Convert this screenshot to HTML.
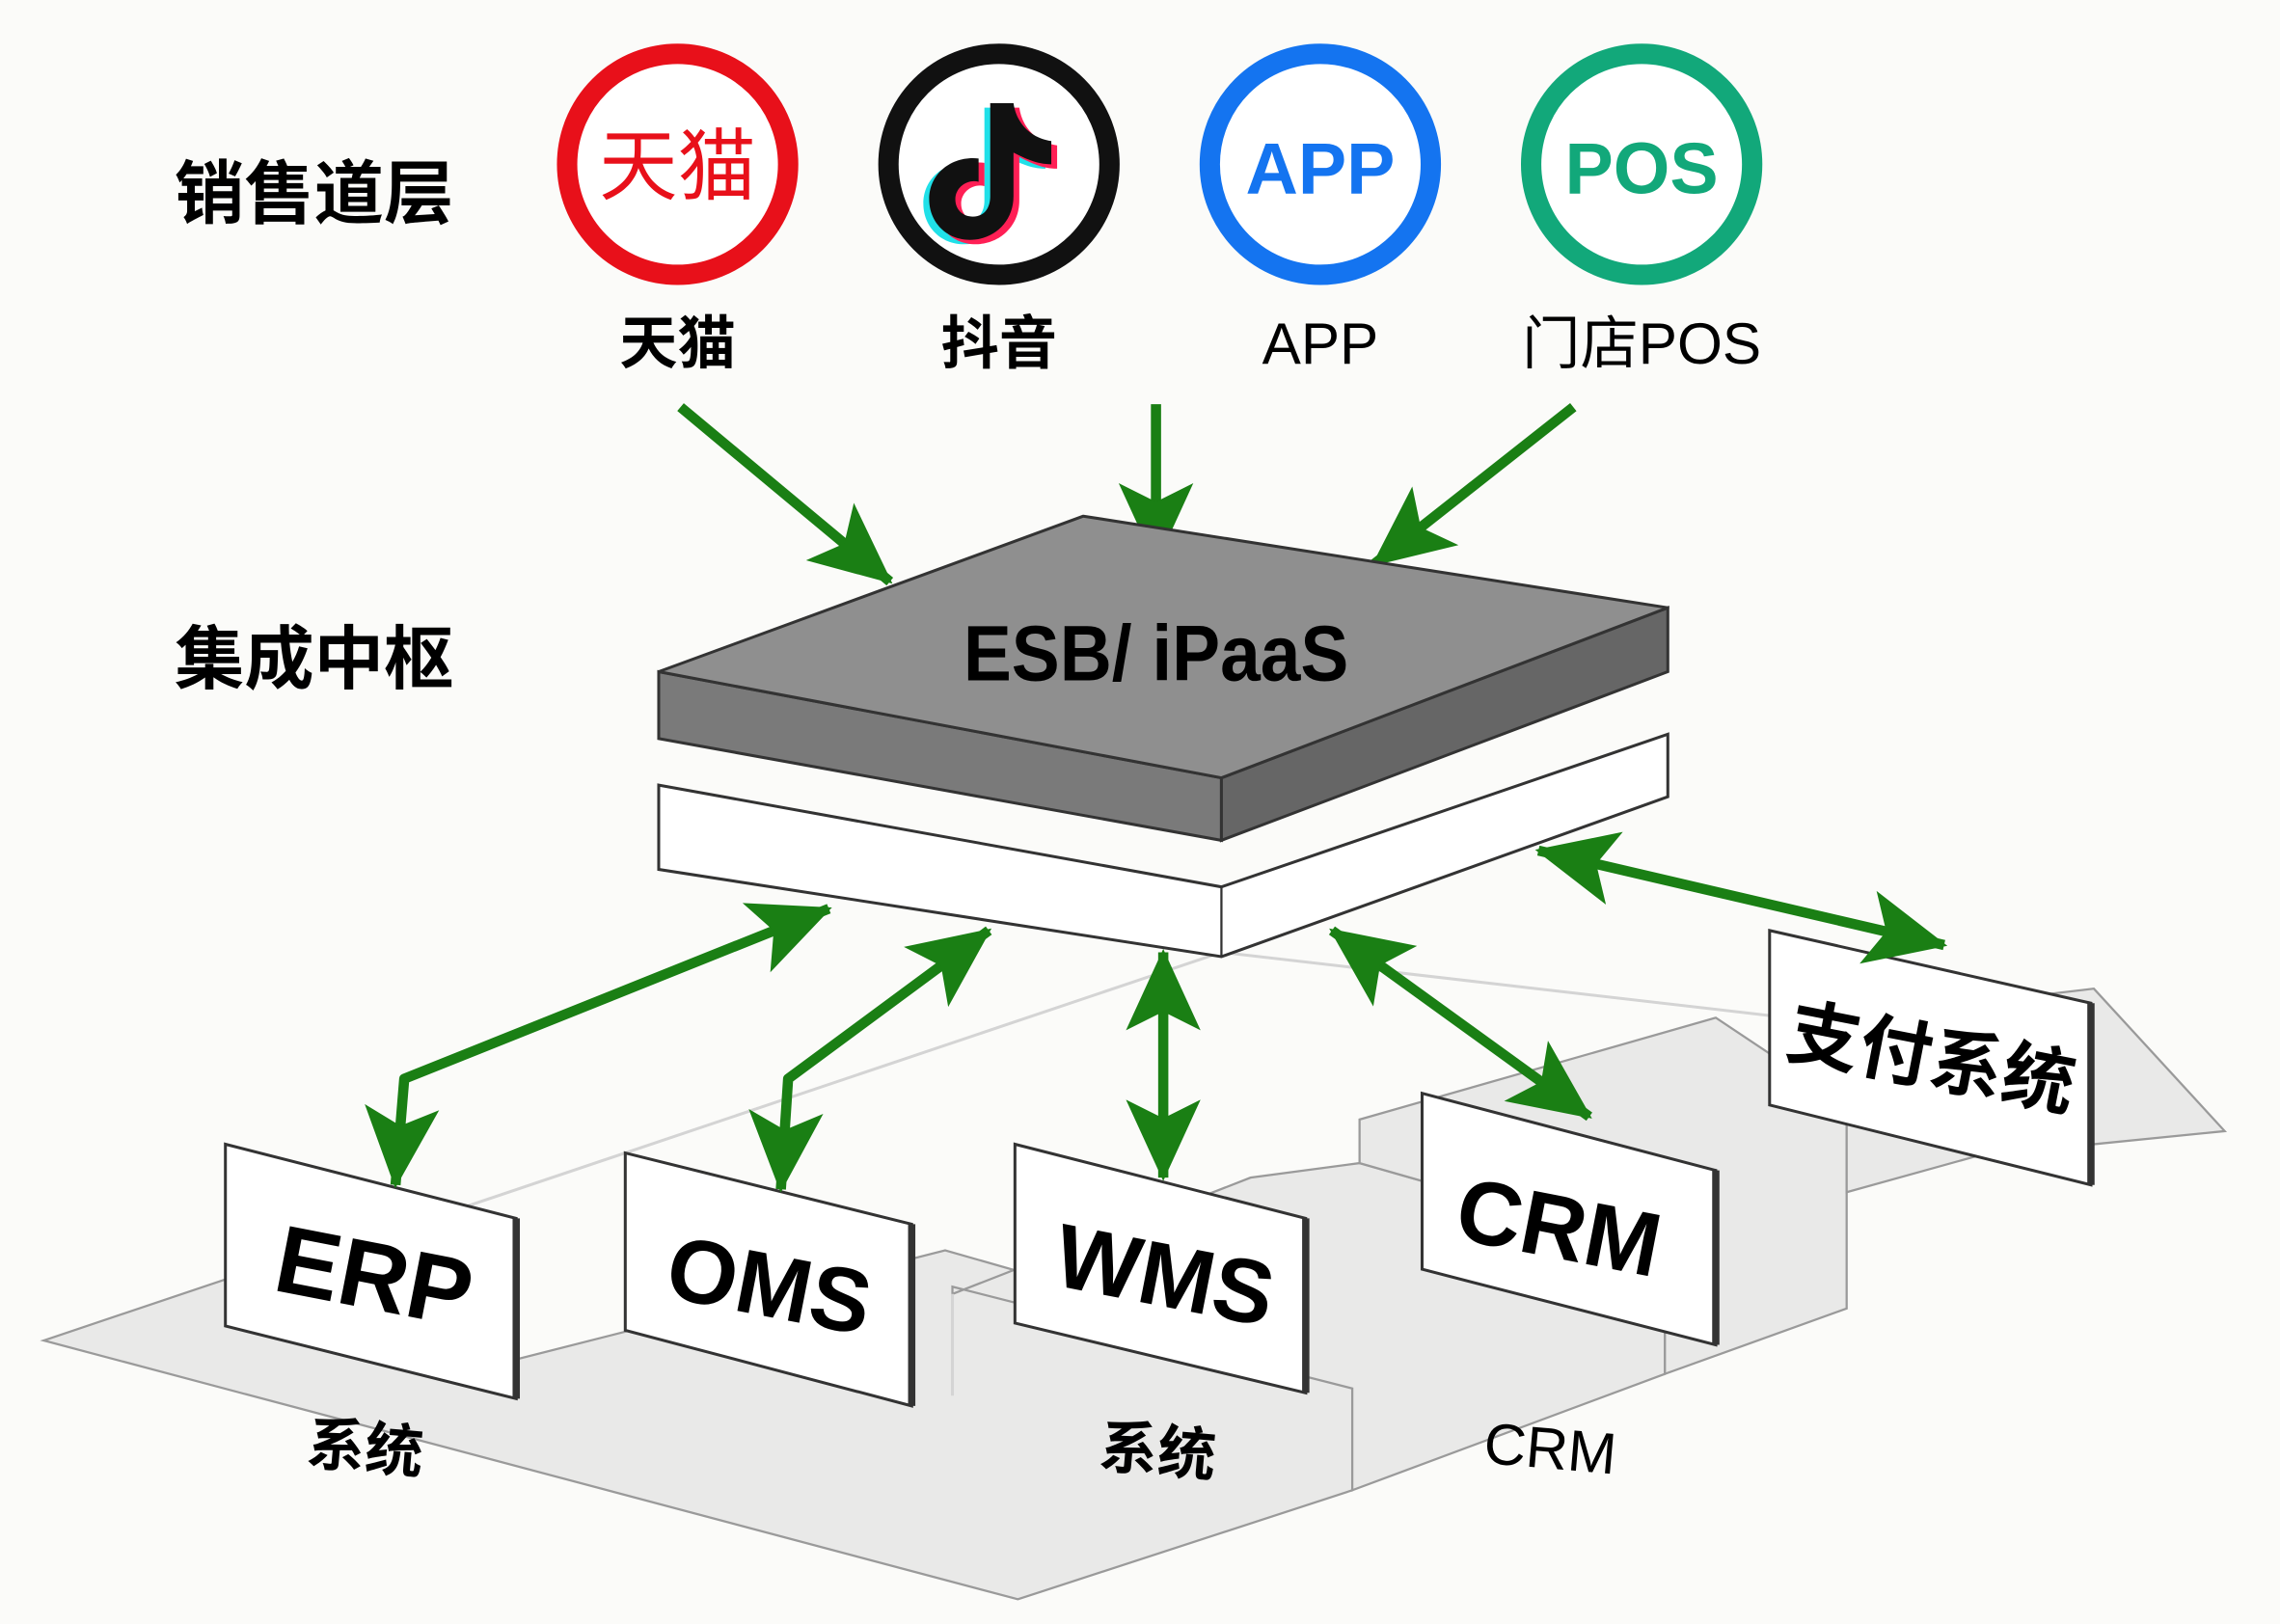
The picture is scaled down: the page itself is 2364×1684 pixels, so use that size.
<!DOCTYPE html>
<html><head><meta charset="utf-8"><style>
html,body{margin:0;padding:0;background:#fbfbf9;}
svg{display:block;}
text{font-family:"Liberation Sans","Noto Sans CJK SC",sans-serif;font-weight:bold;}
</style></head><body>
<svg width="2364" height="1684" viewBox="0 0 1568 1117" xmlns="http://www.w3.org/2000/svg">
<defs>
<marker id="ah" markerUnits="userSpaceOnUse" markerWidth="56" markerHeight="56" refX="46" refY="24" orient="auto-start-reverse" viewBox="0 0 48 48">
<path d="M0,2 L48,24 L0,46 L11,24 Z" fill="#1a7f14"/>
</marker>
</defs>
<rect width="1568" height="1117" fill="#fbfbf9"/>
<g fill="#e9e9e8" stroke="#9a9a9a" stroke-width="1.5">
<polygon points="30,922 155,880 355,935 650,860 930,940 930,1025 700,1100"/>
<polygon points="655,890 860,810 935,800 1145,860 1145,945 930,1025 930,955 655,885"/>
<polygon points="935,770 1180,700 1270,760 1270,900 1145,945 1145,860 935,800"/>
<polygon points="1270,700 1440,680 1530,778 1360,795 1270,820"/>
</g>
<g fill="none" stroke="#d4d4d4" stroke-width="2">
<line x1="320" y1="830" x2="840" y2="655"/>
<line x1="840" y1="655" x2="1230" y2="700"/>
<line x1="655" y1="890" x2="655" y2="960"/>
</g>
<text x="120" y="150" font-size="48">销售道层</text>
<text x="120" y="470" font-size="48">集成中枢</text>
<circle cx="466" cy="113" r="76" fill="#fff" stroke="#e8101a" stroke-width="14"/>
<text x="466" y="133" font-size="54" fill="#e8101a" text-anchor="middle" style="font-weight:normal">天猫</text>
<circle cx="687" cy="113" r="76" fill="#fff" stroke="#111" stroke-width="14"/>
<g transform="translate(687,113)">
<path d="M-6,-42 h16 c2,14 12,24 26,26 v16 c-10,0 -18,-4 -26,-8 v30 c0,18 -14,30 -30,30 c-16,0 -28,-12 -28,-28 c0,-18 16,-30 34,-28 v16 c-8,-2 -16,4 -16,12 c0,8 6,12 12,12 c8,0 12,-6 12,-14 z" fill="#20e0e8" transform="translate(-4,3)"/>
<path d="M-6,-42 h16 c2,14 12,24 26,26 v16 c-10,0 -18,-4 -26,-8 v30 c0,18 -14,30 -30,30 c-16,0 -28,-12 -28,-28 c0,-18 16,-30 34,-28 v16 c-8,-2 -16,4 -16,12 c0,8 6,12 12,12 c8,0 12,-6 12,-14 z" fill="#ff1f55" transform="translate(4,3)"/>
<path d="M-6,-42 h16 c2,14 12,24 26,26 v16 c-10,0 -18,-4 -26,-8 v30 c0,18 -14,30 -30,30 c-16,0 -28,-12 -28,-28 c0,-18 16,-30 34,-28 v16 c-8,-2 -16,4 -16,12 c0,8 6,12 12,12 c8,0 12,-6 12,-14 z" fill="#111"/>
</g>
<circle cx="908" cy="113" r="76" fill="#fff" stroke="#1474f0" stroke-width="14"/>
<text x="908" y="133" font-size="50" fill="#1474f0" text-anchor="middle">APP</text>
<circle cx="1129" cy="113" r="76" fill="#fff" stroke="#12a87a" stroke-width="14"/>
<text x="1129" y="133" font-size="50" fill="#12a87a" text-anchor="middle">POS</text>
<g font-size="40" text-anchor="middle">
<text x="466" y="250">天猫</text>
<text x="687" y="250">抖音</text>
<text x="908" y="250" style="font-weight:normal">APP</text>
<text x="1129" y="250" style="font-weight:normal">门店POS</text>
</g>
<g stroke="#1a7f14" stroke-width="7" fill="none">
<line x1="468" y1="280" x2="612" y2="400" marker-end="url(#ah)"/>
<line x1="795" y1="278" x2="795" y2="386" marker-end="url(#ah)"/>
<line x1="1082" y1="280" x2="945" y2="388" marker-end="url(#ah)"/>
</g>
<polygon points="453,540 840,610 1147,505 1147,548 840,658 453,598" fill="#fff" stroke="#333" stroke-width="2"/>
<line x1="840" y1="610" x2="840" y2="658" stroke="#333" stroke-width="1.5"/>
<polygon points="453,462 840,535 840,578 453,508" fill="#7a7a7a" stroke="#333" stroke-width="2"/>
<polygon points="840,535 1147,418 1147,462 840,578" fill="#666" stroke="#333" stroke-width="2"/>
<polygon points="453,462 745,355 1147,418 840,535" fill="#8f8f8f" stroke="#333" stroke-width="2" stroke-linejoin="round"/>
<text x="795" y="468" font-size="54" text-anchor="middle" textLength="265" lengthAdjust="spacingAndGlyphs">ESB/ iPaaS</text>
<g stroke="#333" stroke-width="2" fill="#fff">
<polygon points="155,787 355,838 355,962 155,912"/>
<polygon points="430,793 627,842 627,967 430,915"/>
<polygon points="698,787 898,838 898,958 698,910"/>
<polygon points="978,752 1180,805 1180,925 978,873"/>
<polygon points="1217,640 1438,690 1438,815 1217,760"/>
</g>
<g stroke="#333" stroke-width="5">
<line x1="355" y1="838" x2="355" y2="962"/><line x1="627" y1="842" x2="627" y2="967"/>
<line x1="898" y1="838" x2="898" y2="958"/><line x1="1180" y1="805" x2="1180" y2="925"/>
<line x1="1438" y1="690" x2="1438" y2="815"/>
</g>
<text transform="translate(253,900) rotate(11)" font-size="66" text-anchor="middle">ERP</text>
<text transform="translate(525,905) rotate(11)" font-size="62" text-anchor="middle">OMS</text>
<text transform="translate(797,898) rotate(11)" font-size="62" text-anchor="middle">WMS</text>
<text transform="translate(1068,865) rotate(11)" font-size="62" text-anchor="middle">CRM</text>
<text transform="translate(1325,745) rotate(11)" font-size="50" text-anchor="middle">支付系统</text>
<g font-size="40" text-anchor="middle">
<text transform="translate(250,1010) rotate(5)">系统</text>
<text transform="translate(795,1012) rotate(5)">系统</text>
<text transform="translate(1065,1010) rotate(5)" style="font-weight:normal">CRM</text>
</g>
<g stroke="#1a7f14" stroke-width="7" fill="none" stroke-linejoin="round">
<polyline points="570,625 278,742 272,815" marker-start="url(#ah)" marker-end="url(#ah)"/>
<polyline points="680,640 542,742 537,818" marker-start="url(#ah)" marker-end="url(#ah)"/>
<line x1="800" y1="655" x2="800" y2="810" marker-start="url(#ah)" marker-end="url(#ah)"/>
<line x1="916" y1="640" x2="1093" y2="768" marker-start="url(#ah)" marker-end="url(#ah)"/>
<line x1="1058" y1="585" x2="1337" y2="650" marker-start="url(#ah)" marker-end="url(#ah)"/>
</g>
</svg>
</body></html>
